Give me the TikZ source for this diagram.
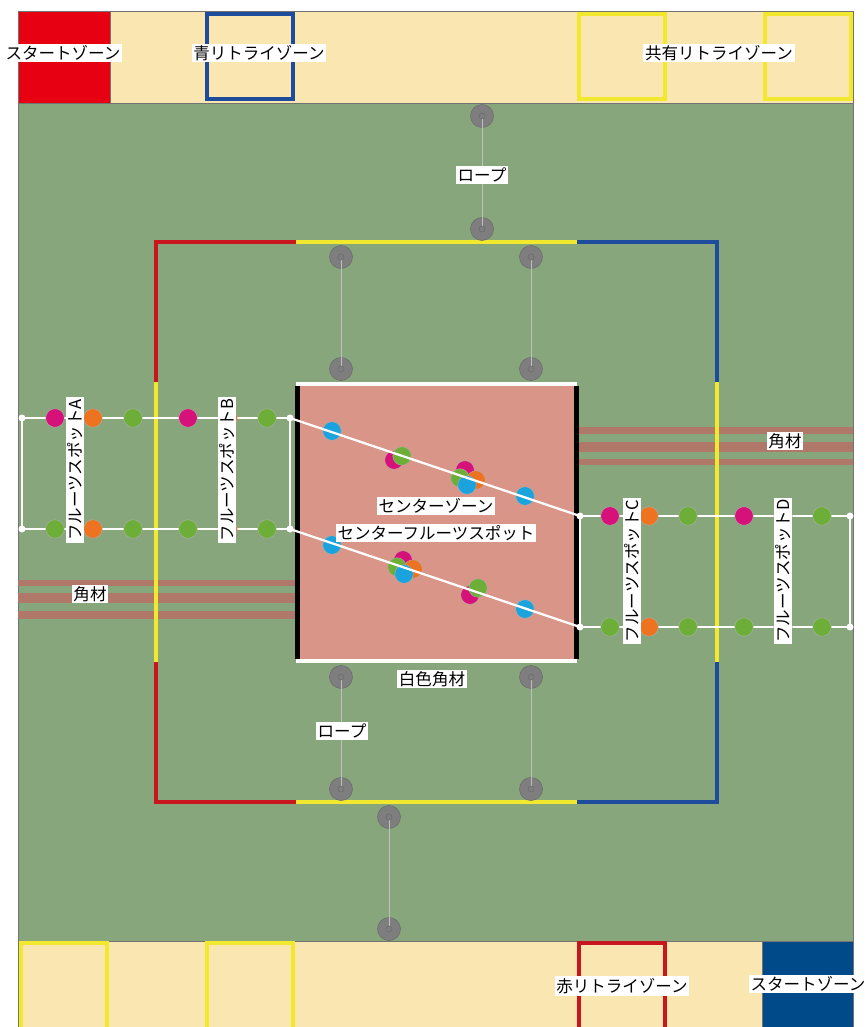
\documentclass[tikz,border=0pt]{standalone}
\usepackage{xcolor}
\usepackage{fontspec}
\newfontfamily\jpfont{Noto Sans CJK JP}
\usetikzlibrary{positioning,calc}

\definecolor{cream}{HTML}{FAE6B1}
\definecolor{field}{HTML}{88A67C}
\definecolor{startred}{HTML}{E60012}
\definecolor{startblue}{HTML}{004A8A}
\definecolor{zoneblue}{HTML}{1D4C9C}
\definecolor{zonered}{HTML}{C8161E}
\definecolor{zoneyellow}{HTML}{F2E92E}
\definecolor{salmon}{HTML}{D99587}
\definecolor{beam}{HTML}{B07868}
\definecolor{fmag}{HTML}{D6117A}
\definecolor{forg}{HTML}{EE7320}
\definecolor{fgrn}{HTML}{6DAE38}
\definecolor{fblu}{HTML}{1BA3DD}
\definecolor{pulleygray}{HTML}{7E7E7E}
\definecolor{pulleyedge}{HTML}{6A6A6A}

\begin{document}
\begin{tikzpicture}[x=0.02cm, y=-0.02cm,
    lbl/.style={fill=white, inner sep=1pt, font=\jpfont\fontsize{9.4}{10}\selectfont},
    zonebox/.style={line width=0.08cm},
    edge/.style={line width=0.08cm},
    frame/.style={white, line width=0.045cm},
    fruit/.style={circle, minimum size=0.37cm, inner sep=0pt, draw=black!30, line width=0.2pt},
    pulley/.style={circle, minimum size=0.46cm, inner sep=0pt, fill=pulleygray, draw=pulleyedge, line width=0.3pt},
    rope/.style={black!25, line width=0.5pt}]
        \useasboundingbox (0,0) rectangle (865,1027);

        % Field and bands
        \fill[field] (18,103) rectangle (853,941);
        \fill[cream] (18,11) rectangle (853,103);
        \fill[cream] (18,941) rectangle (853,1027);
        \fill[startred] (18,11) rectangle (110,103);
        \fill[startblue] (762,941) rectangle (853,1027);
        \draw[black!55, line width=0.4pt] (18,1027) -- (18,11) -- (853,11) -- (853,1027);
        \draw[black!55, line width=0.4pt] (18,103) -- (853,103) (18,941) -- (853,941);
        \draw[black!55, line width=0.4pt] (110,11) -- (110,103) (762,941) -- (762,1027);

        % Retry zones
        \draw[zonebox, zoneblue] (207,14) rectangle (293,99);
        \foreach \x in {579,765}
            \draw[zonebox, zoneyellow] (\x,14) rectangle (\x+86,99);
        \foreach \x in {21,207}
            \draw[zonebox, zoneyellow] (\x,1030) -- (\x,943) -- (\x+86,943) -- (\x+86,1030);
        \draw[zonebox, zonered] (579,1030) -- (579,943) -- (665,943) -- (665,1030);

        \node[lbl] (startR) at (63,53) {スタートゾーン};
        \node[lbl] (retryB) at (259,53) {青リトライゾーン};
        \node[lbl] (retryS) at (719,53) {共有リトライゾーン};
        \node[lbl] (retryR) at (622,986) {赤リトライゾーン};
        \node[lbl] (startB) at (808,984) {スタートゾーン};

        % Beams
        \foreach \ya/\yb in {580/586,593/603,611/619}
            \fill[beam] (18,\ya) rectangle (296,\yb);
        \foreach \ya/\yb in {427/434,442/452,459/465}
            \fill[beam] (577,\ya) rectangle (853,\yb);
        \node[lbl] (beamL) at (90,594) {角材};
        \node[lbl] (beamR) at (785,441) {角材};

        % Inner square
        \draw[edge, zonered] (156,382) -- (156,242) -- (296,242);
        \draw[edge, zoneyellow] (296,242) -- (577,242);
        \draw[edge, zoneblue] (577,242) -- (717,242) -- (717,382);
        \draw[edge, zoneyellow] (156,382) -- (156,662) (717,382) -- (717,662);
        \draw[edge, zonered] (156,662) -- (156,802) -- (296,802);
        \draw[edge, zoneyellow] (296,802) -- (577,802);
        \draw[edge, zoneblue] (577,802) -- (717,802) -- (717,662);

        % Center zone
        \fill[salmon] (296,384) rectangle (577,661);
        \draw[white, line width=0.07cm] (296,384) -- (577,384) (296,661) -- (577,661);
        \draw[black, line width=0.1cm] (297,386) -- (297,659) (576,386) -- (576,659);

        % Fruit spot frames
        \coordinate (a1) at (22,418);  \coordinate (b1) at (290,418);
        \coordinate (a2) at (22,529);  \coordinate (b2) at (290,529);
        \coordinate (c1) at (580,516); \coordinate (d1) at (850,516);
        \coordinate (c2) at (580,627); \coordinate (d2) at (850,627);
        \draw[frame] (a1) -- (b1) -- (b2) -- (a2) -- cycle;
        \draw[frame] (c1) -- (d1) -- (d2) -- (c2) -- cycle;
        \foreach \p in {a1,a2,b1,b2,c1,c2,d1,d2}
            \fill[white] (\p) circle[radius=0.07cm];

        % Fruits
        \foreach \x/\c in {55/fmag,93/forg,133/fgrn,188/fmag,228/forg,267/fgrn}
            \node[fruit, fill=\c] at (\x,418) {};
        \foreach \x/\c in {55/fgrn,93/forg,133/fgrn,188/fgrn,228/forg,267/fgrn}
            \node[fruit, fill=\c] at (\x,529) {};
        \foreach \x/\c in {610/fmag,649/forg,688/fgrn,744/fmag,783/forg,822/fgrn}
            \node[fruit, fill=\c] at (\x,516) {};
        \foreach \x/\c in {610/fgrn,649/forg,688/fgrn,744/fgrn,783/forg,822/fgrn}
            \node[fruit, fill=\c] at (\x,627) {};
        \foreach \x/\y/\c in {332/431/fblu, 394/460/fmag, 402/456/fgrn,
                465/470/fmag, 476/480/forg, 460/478/fgrn, 467/485/fblu, 525/496/fblu,
                332/545/fblu, 403/560/fmag, 413/569/forg, 397/567/fgrn, 404/574/fblu,
                470/595/fmag, 478/588/fgrn, 525/609/fblu}
            \node[fruit, fill=\c] at (\x,\y) {};
        \draw[frame] (b1) -- (c1) (b2) -- (c2);

        \node[lbl, rotate=90] (spotA) at (75,470) {フルーツスポットA};
        \node[lbl, rotate=90] (spotB) at (227,470) {フルーツスポットB};
        \node[lbl, rotate=90] (spotC) at (632,571) {フルーツスポットC};
        \node[lbl, rotate=90] (spotD) at (783,571) {フルーツスポットD};
        \node[lbl] (center) at (436,506) {センターゾーン};
        \node[lbl] (centerSpot) at (436,533) {センターフルーツスポット};
        \node[lbl] (whiteBeam) at (432,679) {白色角材};

        % Pulleys and ropes
        \foreach \n/\x/\y in {t1/482/116, t2/482/229, u1/341/257, u2/341/369,
                v1/531/257, v2/531/369, w1/341/677, w2/341/789,
                z1/531/677, z2/531/789, s1/389/817, s2/389/929}
            \node[pulley] (\n) at (\x,\y) {};
        \foreach \a/\b in {t1/t2,u1/u2,v1/v2,w1/w2,z1/z2,s1/s2}
            \draw[rope] (\a.center) -- (\b.center);
        \foreach \n in {t1,t2,u1,u2,v1,v2,w1,w2,z1,z2,s1,s2}
            \draw[pulleyedge, fill=pulleygray, line width=0.3pt] (\n.center) circle[radius=0.06cm];
        \node[lbl] (ropeTop) at (482,175) {ロープ};
        \node[lbl] (ropeBot) at (342,731) {ロープ};
\end{tikzpicture}
\end{document}
